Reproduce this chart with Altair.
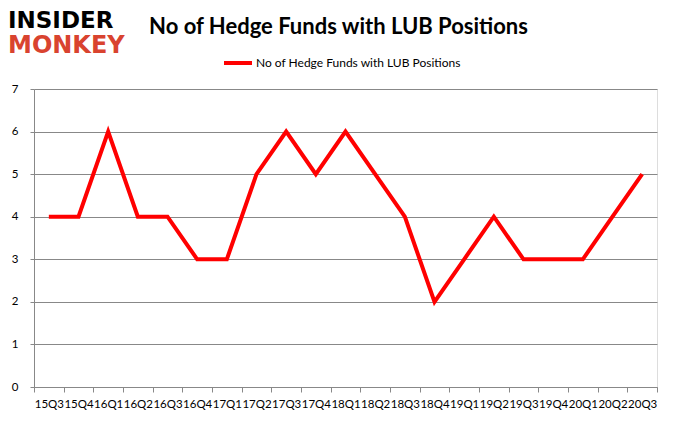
import altair as alt
import pandas as pd

quarters = ["15Q3", "15Q4", "16Q1", "16Q2", "16Q3", "16Q4", "17Q1", "17Q2", "17Q3", "17Q4",
            "18Q1", "18Q2", "18Q3", "18Q4", "19Q1", "19Q2", "19Q3", "19Q4", "20Q1", "20Q2", "20Q3"]
values = [4, 4, 6, 4, 4, 3, 3, 5, 6, 5, 6, 5, 4, 2, 3, 4, 3, 3, 3, 4, 5]
series_name = "No of Hedge Funds with LUB Positions"
title_text = "No of Hedge Funds with LUB Positions"
y_ticks = [0, 1, 2, 3, 4, 5, 6, 7]

df = pd.DataFrame({"quarter": quarters, "value": values, "series": [series_name] * len(quarters)})

FONT = "Lato"

line = alt.Chart(df).mark_line(strokeWidth=4, color="#ff0000").encode(
    x=alt.X("quarter:N", sort=quarters, bandPosition=0.5,
            scale=alt.Scale(type="band", paddingInner=0, paddingOuter=0),
            axis=alt.Axis(title=None, labelAngle=0, tickBand="extent", grid=False,
                          domainColor="#888888", tickColor="#888888", tickSize=5,
                          labelFont=FONT, labelFontSize=11.5, labelColor="#000000",
                          labelPadding=6, labelOverlap=False)),
    y=alt.Y("value:Q", scale=alt.Scale(domain=[0, 7], nice=False),
            axis=alt.Axis(title=None, values=y_ticks, tickSize=4, domainColor="#888888",
                          tickColor="#888888", gridColor="#888888", gridWidth=1,
                          labelFont=FONT, labelFontSize=11.5, labelColor="#000000",
                          labelPadding=12)),
    color=alt.Color("series:N", scale=alt.Scale(range=["#ff0000"]),
                    legend=alt.Legend(title=None, orient="none", legendX=188, legendY=-42,
                                      symbolType="stroke", symbolStrokeWidth=4, symbolSize=784,
                                      labelFont=FONT, labelFontSize=12, labelColor="#000000",
                                      labelOffset=2, labelLimit=0)),
)

title = alt.Chart(pd.DataFrame({"t": [title_text]})).mark_text(
    font=FONT, fontWeight="bold", fontSize=22, color="#000000", align="center",
    baseline="alphabetic").encode(text="t:N", x=alt.value(304.5), y=alt.value(-55))

logo_top = alt.Chart(pd.DataFrame({"t": ["INSIDER"]})).mark_text(
    font="DejaVu Sans", fontWeight="bold", fontSize=23, color="#000000", align="left",
    baseline="alphabetic").encode(text="t:N", x=alt.value(-26), y=alt.value(-61))
logo_bot = alt.Chart(pd.DataFrame({"t": ["MONKEY"]})).mark_text(
    font="DejaVu Sans", fontWeight="bold", fontSize=24, color="#d9432f", align="left",
    baseline="alphabetic").encode(text="t:N", x=alt.value(-26), y=alt.value(-36))

chart = alt.layer(line, title, logo_top, logo_bot).properties(
    width=623, height=298,
    padding={"left": 26, "top": 81, "right": 13, "bottom": 28},
    autosize=alt.AutoSizeParams(type="none"),
).configure_view(stroke=None).configure(background="#ffffff")

chart.save("out.html", embed_options={"renderer": "svg", "actions": False})
